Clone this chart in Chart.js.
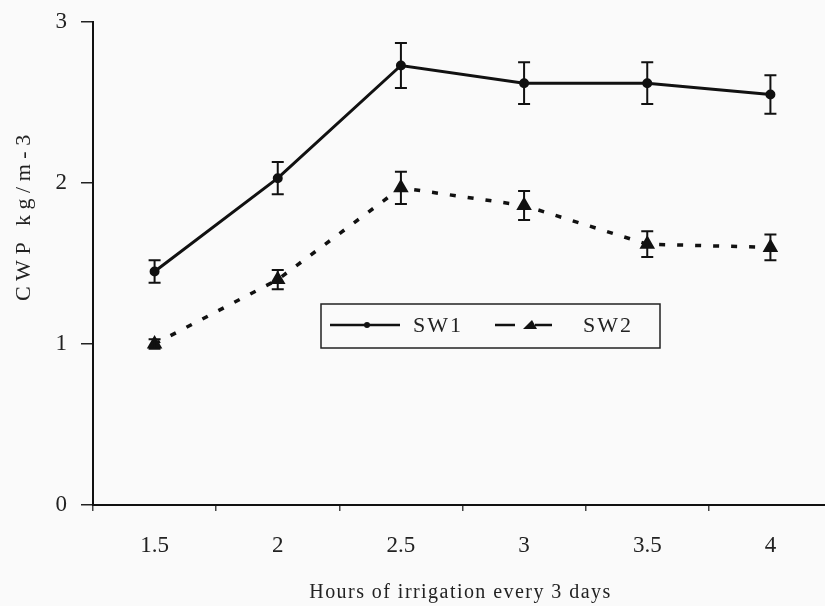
<!DOCTYPE html>
<html>
<head>
<meta charset="utf-8">
<script src="https://cdn.jsdelivr.net/npm/chart.js@4"></script>
<style>
    body { margin: 0; background: #fafafa; overflow: hidden; }
    #caixa { width: 832px; height: 606px; }
</style>
</head>
<body>
<div id="caixa"><canvas id="grafico" width="832" height="606"></canvas></div>
<script>
// dados
const horas = ['1.5', '2', '2.5', '3', '3.5', '4'];
const valoresSW1 = [1.45, 2.03, 2.73, 2.62, 2.62, 2.55];
const errosSW1 = [0.07, 0.10, 0.14, 0.13, 0.13, 0.12];
const valoresSW2 = [1.00, 1.40, 1.97, 1.86, 1.62, 1.60];
const errosSW2 = [0.03, 0.06, 0.10, 0.09, 0.08, 0.08];
const ticksY = [0, 1, 2, 3];

const tituloX = 'Hours of irrigation every 3 days';
const tituloY = 'CWP kg/m-3';

const fonte = "'Liberation Serif', 'Times New Roman', serif";

// fundo
const fundo = {
    id: 'fundo',
    beforeDraw(chart) {
        const ctx = chart.ctx;
        ctx.save();
        ctx.fillStyle = '#fafafa';
        ctx.fillRect(0, 0, chart.width, chart.height);
        ctx.restore();
    }
};

// barras de erro
const barrasErro = {
    id: 'barrasErro',
    afterDatasetsDraw(chart) {
        const ctx = chart.ctx;
        const escalaY = chart.scales.y;
        ctx.save();
        ctx.strokeStyle = '#111';
        ctx.lineWidth = 2;
        chart.data.datasets.forEach((ds, i) => {
            const meta = chart.getDatasetMeta(i);
            meta.data.forEach((ponto, j) => {
                const topo = escalaY.getPixelForValue(ds.data[j] + ds.erros[j]);
                const base = escalaY.getPixelForValue(ds.data[j] - ds.erros[j]);
                const x = ponto.x;
                ctx.beginPath();
                ctx.moveTo(x, topo);
                ctx.lineTo(x, base);
                ctx.moveTo(x - 6, topo);
                ctx.lineTo(x + 6, topo);
                ctx.moveTo(x - 6, base);
                ctx.lineTo(x + 6, base);
                ctx.stroke();
            });
        });
        ctx.restore();
    }
};

// títulos dos eixos (com espaçamento entre letras, como no original)
const titulos = {
    id: 'titulos',
    afterDraw(chart) {
        const ctx = chart.ctx;
        const area = chart.chartArea;
        ctx.save();
        ctx.fillStyle = '#222';
        ctx.textAlign = 'center';
        ctx.textBaseline = 'alphabetic';

        ctx.font = '20px ' + fonte;
        ctx.letterSpacing = '1.45px';
        ctx.fillText(tituloX, (area.left + area.right) / 2 - 2, chart.height - 8);

        ctx.font = '22px ' + fonte;
        ctx.letterSpacing = '5.5px';
        ctx.translate(30, area.top + (area.bottom - area.top) * 0.40);
        ctx.rotate(-Math.PI / 2);
        ctx.fillText(tituloY, 0, 0);
        ctx.restore();
    }
};

// legenda dentro do gráfico, com caixa
const legendaCaixa = {
    id: 'legendaCaixa',
    afterDraw(chart) {
        const ctx = chart.ctx;
        const area = chart.chartArea;
        const x0 = area.left + 228;
        const y0 = area.top + 282;
        ctx.save();
        ctx.strokeStyle = '#222';
        ctx.lineWidth = 1.5;
        ctx.strokeRect(x0, y0, 339, 44);

        const meio = y0 + 21;
        // SW1
        ctx.strokeStyle = '#111';
        ctx.fillStyle = '#111';
        ctx.lineWidth = 2.5;
        ctx.beginPath();
        ctx.moveTo(x0 + 9, meio);
        ctx.lineTo(x0 + 79, meio);
        ctx.stroke();
        ctx.beginPath();
        ctx.arc(x0 + 46, meio, 3, 0, Math.PI * 2);
        ctx.fill();

        // SW2
        ctx.beginPath();
        ctx.moveTo(x0 + 174, meio);
        ctx.lineTo(x0 + 194, meio);
        ctx.moveTo(x0 + 214, meio);
        ctx.lineTo(x0 + 231, meio);
        ctx.stroke();
        ctx.beginPath();
        ctx.moveTo(x0 + 211, meio - 5);
        ctx.lineTo(x0 + 216, meio + 4);
        ctx.lineTo(x0 + 202, meio + 4);
        ctx.closePath();
        ctx.fill();

        ctx.font = '22px ' + fonte;
        ctx.letterSpacing = '2px';
        ctx.textBaseline = 'middle';
        ctx.fillStyle = '#222';
        ctx.fillText(chart.data.datasets[0].label, x0 + 92, meio + 1);
        ctx.fillText(chart.data.datasets[1].label, x0 + 262, meio + 1);
        ctx.restore();
    }
};

const dados = {
    labels: horas,
    datasets: [
        {
            label: 'SW1',
            data: valoresSW1,
            erros: errosSW1,
            borderColor: '#111',
            backgroundColor: '#111',
            borderWidth: 3,
            pointStyle: 'circle',
            pointRadius: 3.5,
            tension: 0
        },
        {
            label: 'SW2',
            data: valoresSW2,
            erros: errosSW2,
            borderColor: '#111',
            backgroundColor: '#111',
            borderWidth: 3.5,
            borderDash: [6, 12],
            pointStyle: 'triangle',
            pointRadius: 5.5,
            tension: 0
        }
    ]
};

const config = {
    type: 'line',
    data: dados,
    plugins: [fundo, barrasErro, titulos, legendaCaixa],
    options: {
        responsive: false,
        animation: false,
        layout: { autoPadding: false, padding: { top: 22, left: 0, right: 0, bottom: 0 } },
        plugins: {
            legend: { display: false },
            tooltip: { enabled: false }
        },
        scales: {
            x: {
                offset: true,
                afterFit: (escala) => { escala.height = 101; },
                grid: {
                    offset: true,
                    drawOnChartArea: false,
                    drawTicks: true,
                    tickLength: 6,
                    color: '#444',
                    lineWidth: 1.5
                },
                border: { color: '#111', width: 2 },
                ticks: {
                    color: '#222',
                    padding: 21,
                    font: { family: fonte, size: 23 }
                }
            },
            y: {
                min: 0,
                max: 3,
                afterFit: (escala) => {
                    escala.width = 93;
                    escala.paddingTop = 0;
                    escala.paddingBottom = 0;
                },
                afterBuildTicks: (escala) => {
                    escala.ticks = ticksY.map(v => ({ value: v }));
                },
                grid: {
                    drawOnChartArea: false,
                    drawTicks: true,
                    tickLength: 12,
                    color: '#222',
                    lineWidth: 1.5
                },
                border: { color: '#111', width: 2 },
                ticks: {
                    color: '#222',
                    padding: 14,
                    font: { family: fonte, size: 23 }
                }
            }
        }
    }
};

const meuGrafico = new Chart(document.getElementById('grafico'), config);
</script>
</body>
</html>
